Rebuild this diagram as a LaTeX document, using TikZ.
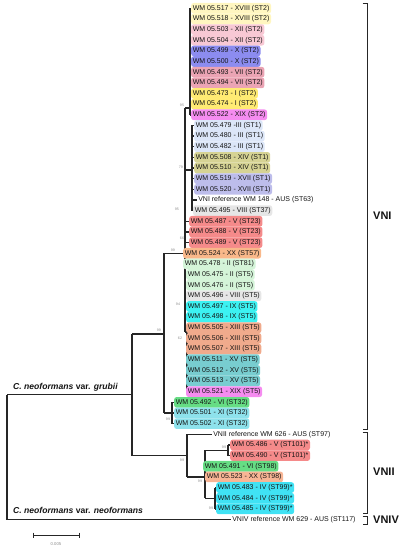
\documentclass[tikz,border=0pt]{standalone}
\usepackage{fontspec}
\setmainfont{Liberation Sans}
\usetikzlibrary{calc}
\newcommand\leaffont{\fontsize{7}{7.5}\selectfont}
\newcommand\bsfont{\fontsize{3.6}{4}\selectfont}
\definecolor{cXVIII}{HTML}{FFF6C0}
\definecolor{cXII}{HTML}{F8C8D4}
\definecolor{cX}{HTML}{8C8CF0}
\definecolor{cVII}{HTML}{EBA4B4}
\definecolor{cI}{HTML}{FFEB73}
\definecolor{cXIX}{HTML}{F58CF0}
\definecolor{cIII}{HTML}{DCE6F8}
\definecolor{cXIV}{HTML}{D6D394}
\definecolor{cXVII}{HTML}{BDBDEB}
\definecolor{cVIII}{HTML}{E6E6E6}
\definecolor{cV}{HTML}{F58A8A}
\definecolor{cXX}{HTML}{F9B88A}
\definecolor{cII}{HTML}{D4F4D8}
\definecolor{cIX}{HTML}{3CF2F2}
\definecolor{cXIII}{HTML}{F0AA8C}
\definecolor{cXV}{HTML}{78CDD0}
\definecolor{cVI}{HTML}{66DD84}
\definecolor{cXI}{HTML}{8EE2EC}
\definecolor{cIV}{HTML}{40E2F4}
\definecolor{cXXb}{HTML}{F8B595}
\definecolor{branch}{HTML}{262626}
\pgfdeclarelayer{bg}
\pgfsetlayers{bg,main}
\tikzset{
  leaf/.style={anchor=west, inner xsep=1.6pt, inner ysep=0pt, minimum height=10.65pt,
    rounded corners=2.5pt, font=\leaffont, text=black!92},
  br/.style={draw=branch, line width=1.4pt},
  bs/.style={font=\bsfont, text=black!45, inner sep=0pt},
  bracket/.style={draw=branch, line width=0.9pt},
  clade/.style={font=\fontsize{11}{12}\selectfont\bfseries, anchor=west, inner sep=0pt, text=black!92},
  species/.style={font=\fontsize{8.6}{9}\selectfont\bfseries, anchor=west, inner sep=0pt, text=black!92},
}
\begin{document}
\begin{tikzpicture}[x=1pt,y=-1pt]
\useasboundingbox (0,0) rectangle (402,550);
% leaves
\node[leaf, fill=cXVIII] (r1) at (191,8.3) {WM 05.517 - XVIII (ST2)};
\node[leaf, fill=cXVIII] (r2) at (191,18.95) {WM 05.518 - XVIII (ST2)};
\node[leaf, fill=cXII] (r3) at (191,29.6) {WM 05.503 - XII (ST2)};
\node[leaf, fill=cXII] (r4) at (191,40.25) {WM 05.504 - XII (ST2)};
\node[leaf, fill=cX] (r5) at (191,50.9) {WM 05.499 - X (ST2)};
\node[leaf, fill=cX] (r6) at (191,61.55) {WM 05.500 - X (ST2)};
\node[leaf, fill=cVII] (r7) at (191,72.2) {WM 05.493 - VII (ST2)};
\node[leaf, fill=cVII] (r8) at (191,82.85) {WM 05.494 - VII (ST2)};
\node[leaf, fill=cI] (r9) at (191,93.5) {WM 05.473 - I (ST2)};
\node[leaf, fill=cI] (r10) at (191,104.15) {WM 05.474 - I (ST2)};
\node[leaf, fill=cXIX] (r11) at (191,114.8) {WM 05.522 - XIX (ST2)};
\node[leaf, fill=cIII] (r12) at (194,125.45) {WM 05.479 -III (ST1)};
\node[leaf, fill=cIII] (r13) at (194,136.1) {WM 05.480 - III (ST1)};
\node[leaf, fill=cIII] (r14) at (194,146.75) {WM 05.482 - III (ST1)};
\node[leaf, fill=cXIV] (r15) at (194,157.4) {WM 05.508 - XIV (ST1)};
\node[leaf, fill=cXIV] (r16) at (194,168.05) {WM 05.510 - XIV (ST1)};
\node[leaf, fill=cXVII] (r17) at (194,178.7) {WM 05.519 - XVII (ST1)};
\node[leaf, fill=cXVII] (r18) at (194,189.35) {WM 05.520 - XVII (ST1)};
\node[leaf] (r19) at (196.5,200) {VNI reference WM 148 - AUS (ST63)};
\node[leaf, fill=cVIII] (r20) at (193,210.65) {WM 05.495 - VIII (ST37)};
\node[leaf, fill=cV] (r21) at (189,221.3) {WM 05.487 - V (ST23)};
\node[leaf, fill=cV] (r22) at (189,231.95) {WM 05.488 - V (ST23)};
\node[leaf, fill=cV] (r23) at (189,242.6) {WM 05.489 - V (ST23)};
\node[leaf, fill=cXX] (r24) at (183,253.25) {WM 05.524 - XX (ST57)};
\node[leaf, fill=cII] (r25) at (183,263.9) {WM 05.478 - II (ST81)};
\node[leaf, fill=cII] (r26) at (186,274.55) {WM 05.475 - II (ST5)};
\node[leaf, fill=cII] (r27) at (186,285.2) {WM 05.476 - II (ST5)};
\node[leaf, fill=cVIII] (r28) at (186,295.85) {WM 05.496 - VIII (ST5)};
\node[leaf, fill=cIX] (r29) at (186,306.5) {WM 05.497 - IX (ST5)};
\node[leaf, fill=cIX] (r30) at (186,317.15) {WM 05.498 - IX (ST5)};
\node[leaf, fill=cXIII] (r31) at (186,327.8) {WM 05.505 - XIII (ST5)};
\node[leaf, fill=cXIII] (r32) at (186,338.45) {WM 05.506 - XIII (ST5)};
\node[leaf, fill=cXIII] (r33) at (186,349.1) {WM 05.507 - XIII (ST5)};
\node[leaf, fill=cXV] (r34) at (186,359.75) {WM 05.511 - XV (ST5)};
\node[leaf, fill=cXV] (r35) at (186,370.4) {WM 05.512 - XV (ST5)};
\node[leaf, fill=cXV] (r36) at (186,381.05) {WM 05.513 - XV (ST5)};
\node[leaf, fill=cXIX] (r37) at (186,391.7) {WM 05.521 - XIX (ST5)};
\node[leaf, fill=cVI] (r38) at (174,402.35) {WM 05.492 - VI (ST32)};
\node[leaf, fill=cXI] (r39) at (174,413) {WM 05.501 - XI (ST32)};
\node[leaf, fill=cXI] (r40) at (174,423.65) {WM 05.502 - XI (ST32)};
\node[leaf] (r41) at (211.5,434.3) {VNII reference WM 626 - AUS (ST97)};
\node[leaf, fill=cV] (r42) at (230,444.95) {WM 05.486 - V (ST101)*};
\node[leaf, fill=cV] (r43) at (230,455.6) {WM 05.490 - V (ST101)*};
\node[leaf, fill=cVI] (r44) at (203,466.25) {WM 05.491 - VI (ST98)};
\node[leaf, fill=cXXb] (r45) at (205,476.9) {WM 05.523 - XX (ST98)};
\node[leaf, fill=cIV] (r46) at (216,487.55) {WM 05.483 - IV (ST99)*};
\node[leaf, fill=cIV] (r47) at (216,498.2) {WM 05.484 - IV (ST99)*};
\node[leaf, fill=cIV] (r48) at (216,508.85) {WM 05.485 - IV (ST99)*};
\node[leaf] (r49) at (230.5,519.5) {VNIV reference WM 629 - AUS (ST117)};
% internal nodes
\coordinate (rootT) at (7,394.5);
\coordinate (rootB) at (7,519.5);
\coordinate (gM) at (132,394.5);
\coordinate (gT) at (132,334);
\coordinate (gB) at (132,455.6);
\coordinate (vniN) at (164,334);
\coordinate (vniT) at (164,253.25);
\coordinate (vniB) at (164,413);
\coordinate (st32) at (172,413);
\coordinate (LT) at (185,108);
\coordinate (LB) at (185,332);
\coordinate (LM) at (185,170);
\coordinate (st2) at (190,108);
\coordinate (st1) at (192,170);
\coordinate (st5) at (187,332);
\coordinate (n2) at (187,455.6);
\coordinate (n3) at (205,476.9);
\coordinate (n4) at (228,450.3);
\coordinate (n5) at (215,498.2);
\begin{pgfonlayer}{bg}
\draw[br] (rootT) -- (rootB);
\draw[br] (rootT) -- (gM);
\draw[br] (rootB) -- (r49.west);
\draw[br] (gT) -- (gB);
\draw[br] (gT) -- (vniN);
\draw[br] (vniT) -- (vniB);
\draw[br] (vniB) -- (st32);
\draw[br] (st32 |- r38.west) -- (st32 |- r40.west);
\foreach \r in {38,39,40} \draw[br] (st32 |- r\r.west) -- (r\r.west);
\draw[br] (vniT) -- (LT |- vniT);
\draw[br] (LT) -- (LB);
\draw[br] (LT) -- (st2);
\draw[br] (st2 |- r1.west) -- (st2 |- r11.west);
\foreach \r in {1,...,11} \draw[br] (st2 |- r\r.west) -- (r\r.west);
\draw[br] (LM) -- (st1);
\draw[br] (st1 |- r12.west) -- (st1 |- r20.west);
\foreach \r in {12,...,20} \draw[br] (st1 |- r\r.west) -- (r\r.west);
\foreach \r in {21,...,30} \draw[br] (LT |- r\r.west) -- (r\r.west);
\draw[br] (LB) -- (st5);
\draw[br] (st5 |- r31.west) -- (st5 |- r37.west);
\draw[br] (gB) -- (n2);
\draw[br] (n2 |- r41.west) -- (n2 |- n3);
\draw[br] (n2 |- r41.west) -- (r41.west);
\draw[br] (n2 |- n3) -- (n3);
\draw[br] (n3 |- n4) -- (n3 |- n5);
\draw[br] (n3 |- n4) -- (n4);
\draw[br] (n3 |- n5) -- (n5);
\draw[br] (n4 |- r42.west) -- (n4 |- r43.west);
\foreach \r in {42,43} \draw[br] (n4 |- r\r.west) -- (r\r.west);
\draw[br] (n5 |- r46.west) -- (n5 |- r48.west);
\foreach \r in {46,47,48} \draw[br] (n5 |- r\r.west) -- (r\r.west);
\end{pgfonlayer}
% bootstrap values
\node[bs] (b1) at (182,105) {95};
\node[bs] (b2) at (181,167) {79};
\node[bs] (b3) at (177,209) {95};
\node[bs] (b4) at (182,238) {66};
\node[bs] (b5) at (173,250) {99};
\node[bs] (b6) at (178,304) {94};
\node[bs] (b7) at (180,338) {62};
\node[bs] (b8) at (159,330) {99};
\node[bs] (b9) at (168,419) {99};
\node[bs] (b10) at (224,447) {99};
\node[bs] (b11) at (182,460) {99};
\node[bs] (b12) at (200,481) {99};
\node[bs] (b13) at (211,508) {99};
% species labels
\node[species] (grubii) at (13,387) {\textit{C. neoformans} var. \textit{grubii}};
\node[species] (neof) at (13,510) {\textit{C. neoformans} var. \textit{neoformans}};
% brackets
\draw[bracket] (362.5,3) -- (367,3) -- (367,429) -- (362.5,429);
\draw[bracket] (362.5,432) -- (367,432) -- (367,513) -- (362.5,513);
\draw[bracket] (362.5,516) -- (367,516) -- (367,524) -- (362.5,524);
\node[clade] (vni) at (373,216) {VNI};
\node[clade] (vnii) at (373,472) {VNII};
\node[clade] (vniv) at (373,520) {VNIV};
% scale bar
\draw[draw=branch, line width=0.7pt] (33,535) -- (79,535);
\draw[draw=branch, line width=0.7pt] (33,532.5) -- (33,537.5);
\draw[draw=branch, line width=0.7pt] (79,532.5) -- (79,537.5);
\node[bs, font=\fontsize{4.2}{5}\selectfont] (sb) at (56,544) {0.005};
\end{tikzpicture}
\end{document}
